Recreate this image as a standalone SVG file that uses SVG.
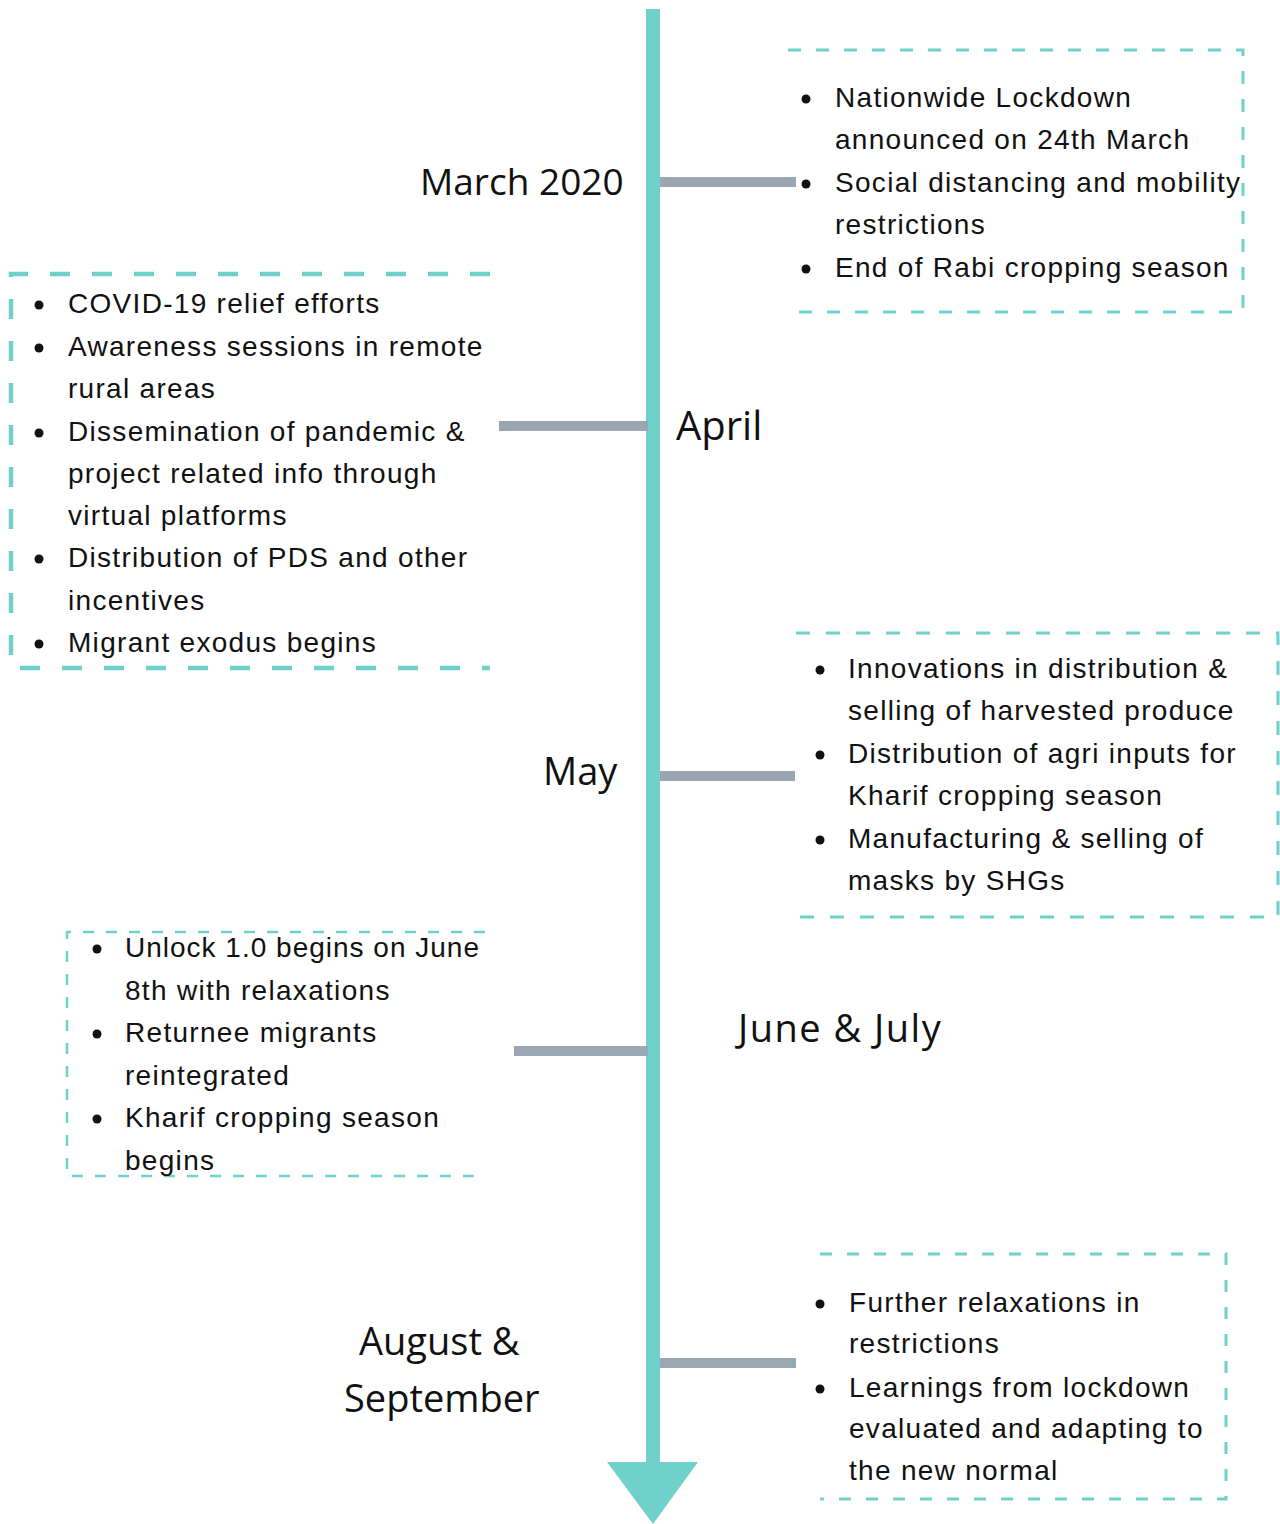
<svg xmlns="http://www.w3.org/2000/svg" width="1280" height="1524" viewBox="0 0 1280 1524">
<style>
.bx{fill:none;stroke:#6fd1c9}
.t{font-family:"Liberation Sans",Arial,sans-serif;font-size:28px;fill:#111;letter-spacing:1.3px}
.lb{font-family:"Open Sans","Noto Sans",sans-serif;font-size:38px;fill:#111}
.bl{fill:#111}
.cn{fill:#9aa6b2}
</style>
<rect width="1280" height="1524" fill="#fff"/>
<g id="timeline">
<rect x="646" y="9" width="14" height="1455" fill="#6fd1c9"/>
<polygon points="607,1462 698,1462 653,1524" fill="#6fd1c9"/>
</g>
<g id="connectors">
<rect class="cn" x="660" y="177" width="136" height="10"/>
<rect class="cn" x="499" y="421" width="149" height="10"/>
<rect class="cn" x="660" y="771" width="135" height="10"/>
<rect class="cn" x="514" y="1046" width="134" height="10"/>
<rect class="cn" x="660" y="1358" width="136" height="10"/>
</g>
<g id="march">
<text class="lb" x="420" y="195" style="font-size:37px">March 2020</text>
<path class="bx" d="M788,50 H1243 V312 H788" style="stroke-width:3;stroke-dasharray:13 15"/>
<circle class="bl" cx="806" cy="99" r="4.5"/>
<circle class="bl" cx="806" cy="184" r="4.5"/>
<circle class="bl" cx="806" cy="269" r="4.5"/>
<text class="t" x="835" y="107">Nationwide Lockdown</text>
<text class="t" x="835" y="149">announced on 24th March</text>
<text class="t" x="835" y="192">Social distancing and mobility</text>
<text class="t" x="835" y="234">restrictions</text>
<text class="t" x="835" y="277">End of Rabi cropping season</text>
</g>
<g id="april">
<text class="lb" x="676" y="440" style="font-size:40px">April</text>
<path class="bx" d="M490,274 H11 V668 H490" style="stroke-width:4.5;stroke-dasharray:20 22"/>
<circle class="bl" cx="39" cy="305" r="4.5"/>
<circle class="bl" cx="39" cy="348" r="4.5"/>
<circle class="bl" cx="39" cy="433" r="4.5"/>
<circle class="bl" cx="39" cy="559" r="4.5"/>
<circle class="bl" cx="39" cy="644" r="4.5"/>
<text class="t" x="68" y="313">COVID-19 relief efforts</text>
<text class="t" x="68" y="356">Awareness sessions in remote</text>
<text class="t" x="68" y="398">rural areas</text>
<text class="t" x="68" y="441">Dissemination of pandemic &amp;</text>
<text class="t" x="68" y="483">project related info through</text>
<text class="t" x="68" y="525">virtual platforms</text>
<text class="t" x="68" y="567">Distribution of PDS and other</text>
<text class="t" x="68" y="610">incentives</text>
<text class="t" x="68" y="652">Migrant exodus begins</text>
</g>
<g id="may">
<text class="lb" x="543" y="785">May</text>
<path class="bx" d="M796,633 H1278 V917 H796" style="stroke-width:3;stroke-dasharray:14 16"/>
<circle class="bl" cx="820" cy="670" r="4.5"/>
<circle class="bl" cx="820" cy="755" r="4.5"/>
<circle class="bl" cx="820" cy="840" r="4.5"/>
<text class="t" x="848" y="678">Innovations in distribution &amp;</text>
<text class="t" x="848" y="720">selling of harvested produce</text>
<text class="t" x="848" y="763">Distribution of agri inputs for</text>
<text class="t" x="848" y="805">Kharif cropping season</text>
<text class="t" x="848" y="848">Manufacturing &amp; selling of</text>
<text class="t" x="848" y="890">masks by SHGs</text>
</g>
<g id="june-july">
<text class="lb" x="738" y="1042" style="letter-spacing:1.5px">June &amp; July</text>
<path class="bx" d="M485,932 H67 V1176 H485" style="stroke-width:2.5;stroke-dasharray:11 12"/>
<circle class="bl" cx="97" cy="949" r="4.5"/>
<circle class="bl" cx="97" cy="1034" r="4.5"/>
<circle class="bl" cx="97" cy="1119" r="4.5"/>
<text class="t" x="125" y="957" style="letter-spacing:1px">Unlock 1.0 begins on June</text>
<text class="t" x="125" y="1000">8th with relaxations</text>
<text class="t" x="125" y="1042">Returnee migrants</text>
<text class="t" x="125" y="1085">reintegrated</text>
<text class="t" x="125" y="1127">Kharif cropping season</text>
<text class="t" x="125" y="1170">begins</text>
</g>
<g id="aug-sep">
<text class="lb" x="359" y="1355">August &amp;</text>
<text class="lb" x="344" y="1412">September</text>
<path class="bx" d="M820,1254 H1226 V1499 H820" style="stroke-width:3;stroke-dasharray:12 15"/>
<circle class="bl" cx="820" cy="1304" r="4.5"/>
<circle class="bl" cx="820" cy="1389" r="4.5"/>
<text class="t" x="849" y="1312">Further relaxations in</text>
<text class="t" x="849" y="1353">restrictions</text>
<text class="t" x="849" y="1397">Learnings from lockdown</text>
<text class="t" x="849" y="1438">evaluated and adapting to</text>
<text class="t" x="849" y="1480">the new normal</text>
</g>
</svg>
